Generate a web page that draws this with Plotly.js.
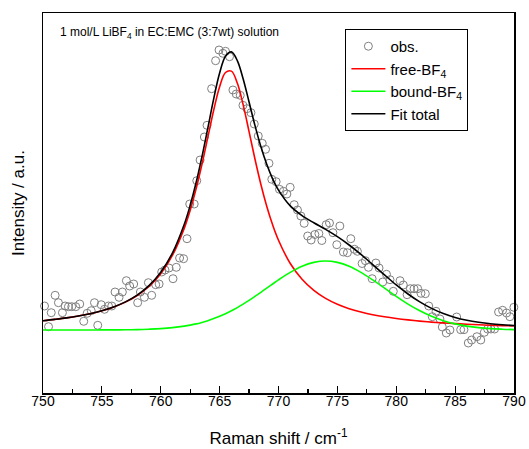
<!DOCTYPE html>
<html>
<head>
<meta charset="utf-8">
<script src="https://cdn.plot.ly/plotly-3.0.1.min.js"></script>
<style>html,body{margin:0;padding:0;background:#fff;}#plot{width:529px;height:449px;}</style>
</head>
<body>
<div id="plot"></div>
<script>
// Observed Raman spectrum (arbitrary intensity units)
const obsX = [750.13,750.47,750.70,751.03,751.31,751.65,751.88,752.16,752.44,752.78,753.12,753.46,753.75,754.09,754.37,754.65,754.94,755.22,755.56,755.84,756.12,756.46,756.74,757.08,757.36,757.70,758.04,758.27,758.61,758.95,759.23,759.57,759.86,760.08,760.36,760.70,761.04,761.32,761.60,761.94,762.23,762.46,762.84,763.06,763.34,763.70,763.93,764.32,764.66,764.95,765.28,765.50,765.84,766.13,766.41,766.75,766.98,767.32,767.66,767.94,768.28,768.62,768.90,769.19,769.43,769.80,770.08,770.42,770.71,770.99,771.33,771.61,771.90,772.18,772.48,772.77,773.09,773.43,773.68,774.05,774.33,774.62,774.95,775.21,775.51,775.85,776.14,776.45,776.70,777.10,777.38,777.64,777.95,778.27,778.54,778.85,779.17,779.47,779.75,780.32,780.60,780.92,781.20,781.51,781.82,782.10,782.47,782.76,783.06,783.38,783.71,783.91,784.25,784.56,785.13,785.47,785.75,786.12,786.40,786.85,787.18,787.48,787.76,788.04,788.35,788.69,789.03,789.37,789.65,789.99,790.22];
const obsY = [87,66.3,80.3,97.7,90.3,80.3,87,86.3,86.3,86.3,89,71.7,79.7,82.3,90.3,67.7,88.3,83.7,87,87,101,95.7,101,112.3,107,109,90.3,101,95.7,110.3,97.7,108.3,109,121,123,125,114.3,125.7,135,134.3,154.3,189,189,212.3,233,256,267.7,304.3,332.3,343,339.7,341.7,336.3,303,299,297.7,287.7,284.3,280.3,269,257,249.7,243.7,229.7,213.7,211.3,203.7,201.7,199,205.7,188.3,183,177,169.7,157,153,158.5,159.5,152.5,168.3,170,160.3,148.3,167,141,140.3,154.3,143.7,141.7,129.5,132.3,125.7,114.3,130,125,111,118.7,113.3,101.7,112.3,108,98.3,104.3,104.3,104.3,99.7,99.3,87,76.3,81.7,74,66,60,63,76,63.3,63.3,50,53,56.3,53,60.7,64,64,64,81,82.7,80,76.3,85.7,71.7];

// Fitted curves
const fitX = [750,751,752,753,754,755,756,757,758,759,760,761,762,762.5,763,763.5,764,764.5,765,765.5,766,766.5,767,767.5,768,768.5,769,769.5,770,771,772,773,774,775,776,777,778,779,780,781,782,783,784,785,786,787,788,789,790];
const freeBF4 = [72.3,73.6,75.1,77.0,79.3,82.2,86.0,90.9,97.5,106.5,119.3,137.8,164.9,182.8,204.1,228.7,255.8,283.0,306.3,320.5,321.9,310.0,288.1,261.4,234.0,208.8,186.8,168.2,152.8,129.5,113.7,102.6,94.6,88.7,84.3,81.0,78.3,76.2,74.5,73.1,71.9,70.9,70.1,69.4,68.8,68.3,67.8,67.4,67.1];
const boundBF4 = [63.0,63.0,63.0,63.0,63.0,63.1,63.1,63.2,63.4,63.8,64.4,65.4,66.9,67.9,69.1,70.6,72.3,74.4,76.7,79.3,82.2,85.4,88.9,92.6,96.6,100.7,104.9,109.0,113.1,120.6,126.7,130.6,132.0,130.6,126.7,120.6,113.1,104.9,96.6,88.9,82.2,76.7,72.3,69.1,66.9,65.4,64.4,63.8,63.4];
const fitTotal = [72.3,73.6,75.1,77.0,79.3,82.3,86.1,91.1,97.9,107.3,120.7,140.2,168.8,187.7,210.2,236.3,265.1,294.4,320.0,336.8,341.1,332.4,314.0,291.0,267.6,246.5,228.7,214.2,202.9,187.1,177.4,170.2,163.6,156.3,148.0,138.6,128.4,118.1,108.1,99.0,91.1,84.6,79.4,75.5,72.7,70.7,69.2,68.2,67.5];

const xTicks = [750,755,760,765,770,775,780,785,790];

const FONT = 'Arial, "Liberation Sans", sans-serif';

const traces = [
  {x: obsX, y: obsY, type: 'scatter', mode: 'markers', name: 'obs.', cliponaxis: false,
   marker: {symbol: 'circle-open', size: 8, color: '#808080', line: {width: 1, color: '#808080'}}},
  {x: fitX, y: freeBF4, type: 'scatter', mode: 'lines', name: 'free-BF<sub>4</sub>',
   line: {color: '#ff0000', width: 1.6, shape: 'spline'}},
  {x: fitX, y: boundBF4, type: 'scatter', mode: 'lines', name: 'bound-BF<sub>4</sub>',
   line: {color: '#00ff00', width: 1.6, shape: 'spline'}},
  {x: fitX, y: fitTotal, type: 'scatter', mode: 'lines', name: 'Fit total',
   line: {color: '#000000', width: 1.6, shape: 'spline'}}
];

const layout = {
  width: 529, height: 449,
  margin: {l: 42.5, r: 15, t: 13, b: 56},
  paper_bgcolor: '#fff', plot_bgcolor: '#fff',
  font: {family: FONT, color: '#000'},
  showlegend: true,
  legend: {x: 0.642, y: 0.958, xanchor: 'left', yanchor: 'top', bgcolor: '#fff',
           bordercolor: '#000', borderwidth: 1, font: {size: 15, family: FONT},
           itemwidth: 34, tracegroupgap: 0},
  xaxis: {
    range: [750, 790], tickmode: 'array', tickvals: xTicks, ticktext: xTicks.map(String),
    ticks: 'inside', ticklen: 7, tickwidth: 1.2, tickcolor: '#000',
    minor: {ticks: 'inside', ticklen: 4, tickwidth: 1.2, dtick: 2.5, tick0: 750, tickcolor: '#000'},
    showline: true, linecolor: '#000', linewidth: 1.5, mirror: true,
    showgrid: false, zeroline: false,
    tickfont: {size: 14, family: FONT}, ticklabelstandoff: -5,
    title: {text: 'Raman shift / cm<sup>-1</sup>', font: {size: 17, family: FONT}, standoff: 24}
  },
  yaxis: {
    range: [0, 380], showticklabels: false, ticks: '',
    showline: true, linecolor: '#000', linewidth: 1.5, mirror: true,
    showgrid: false, zeroline: false,
    title: {text: 'Intensity / a.u.', font: {size: 17, family: FONT}, standoff: 12}
  },
  annotations: [
    {xref: 'paper', yref: 'paper', x: 0.031, y: 0.948, xanchor: 'left', yanchor: 'middle',
     showarrow: false, text: '1 mol/L LiBF<sub>4</sub> in EC:EMC (3:7wt) solution',
     font: {size: 12, family: FONT, color: '#000'}}
  ]
};

Plotly.newPlot('plot', traces, layout, {displayModeBar: false, staticPlot: true});
</script>
</body>
</html>
